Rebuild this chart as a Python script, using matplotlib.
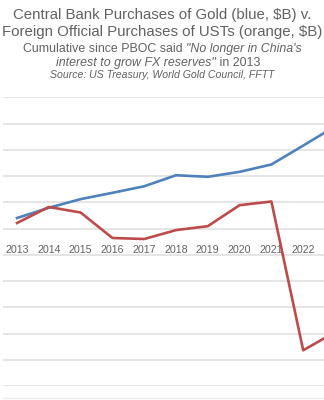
import matplotlib
matplotlib.use('Agg')
import matplotlib.pyplot as plt
from matplotlib.lines import Line2D

plt.rcParams['font.family'] = ['Liberation Sans', 'DejaVu Sans']

years = [2013, 2014, 2015, 2016, 2017, 2018, 2019, 2020, 2021, 2022, 2023]
# cumulative $B
gold_cb = [40, 79, 112, 136, 161, 203, 197, 216, 244, 316, 389]
ust_foreign = [21, 82, 61, -36, -40, -6, 9, 89, 103, -464, -395]
year_labels = [str(y) for y in years[:-1]]

GREY = '#626262'
BLUE = '#4F81BD'
RED = '#BE4B4B'

W, H = 324, 400
fig = plt.figure(figsize=(W / 100, H / 100), dpi=100)


def mixed_line(parts, y_px, size, cx=W / 2):
    """Draw text pieces (text, style) side by side, centred on cx."""
    r = fig.canvas.get_renderer()
    arts = []
    for txt, style in parts:
        t = fig.text(0, 1 - y_px / H, txt, fontsize=size, style=style,
                     color=GREY, va='baseline', ha='left')
        arts.append(t)
    widths = [a.get_window_extent(r).width for a in arts]
    x = cx - sum(widths) / 2
    for a, w in zip(arts, widths):
        a.set_x(x / W)
        x += w


mixed_line([('Central Bank Purchases of Gold (blue, $B) v.', 'normal')], 19.5, 10.8)
mixed_line([('Foreign Official Purchases of USTs (orange, $B)', 'normal')], 36, 10.8)
mixed_line([('Cumulative since PBOC said ', 'normal'),
            ('"No longer in China\'s', 'italic')], 52, 8.9)
mixed_line([('interest to grow FX reserves"', 'italic'),
            (' in 2013', 'normal')], 66, 8.9, cx=W / 2 - 4)
mixed_line([('Source: US Treasury, World Gold Council, FFTT', 'italic')], 77.5, 7.6)

# plot area: gridlines every 100, zero line carries the year labels
ax = fig.add_axes([3 / W, 14 / H, (W - 3) / W, (386 - 97.3) / H])
ax.set_xlim(2013 - 14 / 31.8, 2013 + (W - 17) / 31.8)
ax.set_ylim(-600, 500)
ax.set_yticks(range(-600, 501, 100))
ax.grid(axis='y', color='#e3e3e3', lw=1.3)
ax.tick_params(left=False, labelleft=False, bottom=False)
for s in ax.spines.values():
    s.set_visible(False)
ax.spines['bottom'].set_position(('data', 0))
ax.set_xticks(years[:-1])
ax.set_xticklabels(year_labels, fontsize=7.7, color=GREY)
ax.tick_params(axis='x', pad=8.5)

ax.plot(years, gold_cb, color=BLUE, lw=1.9, zorder=3)
ax.plot(years, ust_foreign, color=RED, lw=1.9, zorder=3)

# chart border along the bottom
fig.add_artist(Line2D([3 / W, 1], [1 - 397.7 / H] * 2, color='#ececec', lw=1))

fig.savefig('out.png', dpi=100)
